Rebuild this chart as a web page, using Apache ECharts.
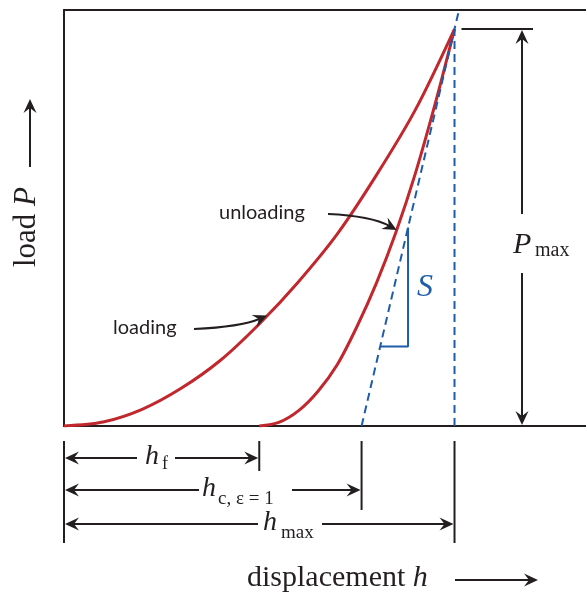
<!DOCTYPE html>
<html>
<head>
<meta charset="utf-8">
<script src="https://cdn.jsdelivr.net/npm/echarts@6/dist/echarts.min.js"></script>
<style>
  html, body { margin: 0; padding: 0; background: #fff; }
  #chart { width: 586px; height: 595px; }
</style>
</head>
<body>
<div id="chart"></div>
<script>
// Characteristic depths, normalised so that h_max = 1 and P_max = 1
const hF = 0.5;
const hC = 0.762;
const hMax = 1.0;
const pMax = 1.0;

// Loading branch (h, P)
const loadH = [0, 0.1, 0.2, 0.3, 0.4, 0.5, 0.6, 0.7, 0.8, 0.9, 1.0];
const loadP = [0, 0.01, 0.042, 0.095, 0.165, 0.257, 0.363, 0.484, 0.632, 0.797, 1.0];

// Unloading branch (h, P)
const unloadH = [0.5, 0.55, 0.6, 0.65, 0.7, 0.75, 0.8, 0.85, 0.9, 0.95, 1.0];
const unloadP = [0, 0.009, 0.038, 0.087, 0.155, 0.25, 0.36, 0.488, 0.637, 0.81, 1.0];

// Loads between which the stiffness triangle sits on the tangent
const slopeP = [0.2, 0.5];

// Plot window (the right-hand frame edge lies outside the canvas)
const xMax = 1.3367;
const yMax = 1.048;

const RED = '#c1272d';
const BLUE = '#1f5ca8';
const INK = '#231f20';
const SERIF = '"Liberation Serif", "DejaVu Serif", serif';
const SANS = 'Lato, "Open Sans", sans-serif';

const S = pMax / (hMax - hC);           // contact stiffness (slope of the tangent)
const tanAt = p => hC + p / S;          // depth on the tangent at load p

const zip = (xs, ys) => xs.map((x, i) => [x, ys[i]]);

const frameAxis = {
  type: 'value', min: 0,
  axisLine: { show: true, onZero: false, lineStyle: { color: INK, width: 2 } },
  axisTick: { show: false }, axisLabel: { show: false }, splitLine: { show: false }
};

const chart = echarts.init(document.getElementById('chart'), null, { renderer: 'canvas' });

chart.setOption({
  animation: false,
  backgroundColor: '#fff',
  grid: { left: 64, top: 10, right: 0, bottom: 169, show: false },
  xAxis: [
    Object.assign({}, frameAxis, { max: xMax, position: 'bottom' }),
    Object.assign({}, frameAxis, { max: xMax, position: 'top' })
  ],
  yAxis: Object.assign({}, frameAxis, { max: yMax, position: 'left' }),
  series: [
    {
      name: 'loading', type: 'line', data: zip(loadH, loadP),
      smooth: 0.3, symbol: 'none', lineStyle: { color: RED, width: 3 }, z: 3
    },
    {
      name: 'unloading', type: 'line', data: zip(unloadH, unloadP),
      smooth: 0.3, symbol: 'none', lineStyle: { color: RED, width: 3 }, z: 3
    },
    {
      name: 'tangent', type: 'line', data: [[hC, 0], [tanAt(yMax), yMax]],
      symbol: 'none', lineStyle: { color: BLUE, width: 2, type: [8, 5] }, z: 4
    },
    {
      name: 'hmax', type: 'line', data: [[hMax, 0], [hMax, pMax]],
      symbol: 'none', lineStyle: { color: BLUE, width: 2, type: [8, 5] }, z: 4
    },
    {
      name: 'stiffness', type: 'line',
      data: [[tanAt(slopeP[0]), slopeP[0]], [tanAt(slopeP[1]), slopeP[0]], [tanAt(slopeP[1]), slopeP[1]]],
      symbol: 'none', lineStyle: { color: BLUE, width: 2 }, z: 4
    }
  ]
});

// ---- annotation helpers (pixel space) ----
const px = (h, p) => chart.convertToPixel({ xAxisIndex: 0, yAxisIndex: 0 }, [h, p]);

function seg(x1, y1, x2, y2, w) {
  return { type: 'line', silent: true, z: 10,
    shape: { x1, y1, x2, y2 }, style: { stroke: INK, lineWidth: w || 2 } };
}
function head(x, y, ang) {
  const L = 14, W = 6.5, N = 9;
  const c = Math.cos(ang), s = Math.sin(ang);
  const pt = (a, b) => [x + a * c - b * s, y + a * s + b * c];
  return { type: 'polygon', silent: true, z: 11,
    shape: { points: [pt(0, 0), pt(-L, W), pt(-N, 0), pt(-L, -W)] }, style: { fill: INK } };
}
function arrow(x1, y1, x2, y2) {
  const ang = Math.atan2(y2 - y1, x2 - x1);
  return [seg(x1, y1, x2 - 8 * Math.cos(ang), y2 - 8 * Math.sin(ang)), head(x2, y2, ang)];
}
function curvedArrow(x1, y1, cx1, cy1, cx2, cy2, x2, y2) {
  const ang = Math.atan2(y2 - cy2, x2 - cx2);
  const ex = x2 - 8 * Math.cos(ang), ey = y2 - 8 * Math.sin(ang);
  return [
    { type: 'bezierCurve', silent: true, z: 10,
      shape: { x1, y1, cpx1: cx1, cpy1: cy1, cpx2: cx2, cpy2: cy2, x2: ex, y2: ey },
      style: { stroke: INK, lineWidth: 2, fill: null } },
    head(x2, y2, ang)
  ];
}
function text(str, x, y, font, opts) {
  return { type: 'text', silent: true, z: 12, x, y,
    style: Object.assign({ text: str, font, fill: INK, align: 'left', verticalAlign: 'middle' }, opts || {}) };
}
function interp(xs, ys, x) {
  for (let i = 1; i < xs.length; i++) {
    if (x <= xs[i]) {
      const t = (x - xs[i - 1]) / (xs[i] - xs[i - 1]);
      return ys[i - 1] + t * (ys[i] - ys[i - 1]);
    }
  }
  return ys[ys.length - 1];
}

const els = [];
const [x0, yBase] = px(0, 0);
const xf = px(hF, 0)[0];
const xc = px(hC, 0)[0];
const xm = px(hMax, 0)[0];
const yTop = px(hMax, pMax)[1];

// Depth dimension lines under the axis
const tickTop = yBase + 15;
els.push(seg(x0, tickTop, x0, yBase + 117));
els.push(seg(xf, tickTop, xf, yBase + 45));
els.push(seg(xc, tickTop, xc, yBase + 84));
els.push(seg(xm, tickTop, xm, yBase + 117));

function dim(xa, xb, y, gapL, gapR) {
  els.push(...arrow(gapL, y, xa + 1, y));
  els.push(...arrow(gapR, y, xb - 1, y));
}
const yF = yBase + 32, yC = yBase + 64, yM = yBase + 98;
dim(x0, xf, yF, 137, 175);
els.push(text('h', 145, yF - 1, 'italic 28px ' + SERIF));
els.push(text('f', 162, yF + 6, '18px ' + SERIF));

dim(x0, xc, yC, 199, 292);
els.push(text('h', 202, yC - 1, 'italic 28px ' + SERIF));
els.push(text('c, ε = 1', 218, yC + 9, '19px ' + SERIF));

dim(x0, xm, yM, 258, 322);
els.push(text('h', 263, yM - 1, 'italic 28px ' + SERIF));
els.push(text('max', 281, yM + 9, '19px ' + SERIF));

// P_max dimension at the right
const xP = 522;
els.push(seg(xm + 7, yTop, 533, yTop));
els.push(...arrow(xP, 214, xP, yTop + 1));
els.push(...arrow(xP, 273, xP, yBase - 1));
els.push(text('P', 513, 245, 'italic 30px ' + SERIF));
els.push(text('max', 535, 251, '20px ' + SERIF));

// Stiffness label
const sPos = px(tanAt(slopeP[1]), (slopeP[0] + slopeP[1]) / 2);
els.push(text('S', sPos[0] + 9, sPos[1] + 1, 'italic 32px ' + SERIF, { fill: BLUE }));

// Branch labels with pointer arrows
const tipL = px(0.52, interp(loadH, loadP, 0.52));
els.push(text('loading', 113, 328, '20px ' + SANS));
els.push(...curvedArrow(194, 329, 215, 328, 245, 325, tipL[0], tipL[1]));

const tipU = px(0.852, interp(unloadH, unloadP, 0.852));
els.push(text('unloading', 219, 213, '20px ' + SANS));
els.push(...curvedArrow(328, 214, 350, 215, 375, 218, tipU[0], tipU[1]));

// Axis titles with direction arrows
els.push({ type: 'text', silent: true, z: 12, x: 27, y: 227, rotation: Math.PI / 2,
  style: { text: 'load {i|P}', font: '31px ' + SERIF, fill: INK, align: 'center', verticalAlign: 'middle',
    rich: { i: { fontStyle: 'italic', fontSize: 31, fontFamily: SERIF } } } });
els.push(...arrow(30, 167, 30, 99));

els.push(text('displacement {i|h}', 247, 578, '30px ' + SERIF,
  { rich: { i: { fontStyle: 'italic', fontSize: 30, fontFamily: SERIF } } }));
els.push(...arrow(455, 580, 538, 580));

chart.setOption({ graphic: { elements: els } });
</script>
</body>
</html>
